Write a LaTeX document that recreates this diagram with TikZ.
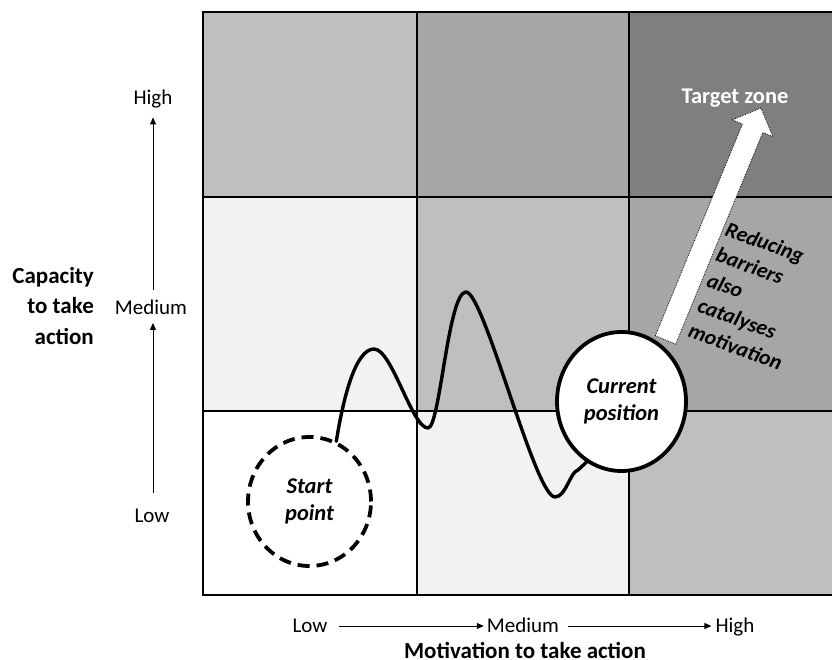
\documentclass[tikz,border=0pt]{standalone}
\usepackage{fontspec}
\setmainfont{Carlito}
\usetikzlibrary{arrows.meta,shapes.geometric}
\definecolor{cA}{HTML}{BFBFBF}
\definecolor{cB}{HTML}{A6A6A6}
\definecolor{cC}{HTML}{7F7F7F}
\definecolor{cD}{HTML}{F2F2F2}
\tikzset{
  gridline/.style={line width=2.2pt, line cap=rect},
  axlabel/.style={font=\fontsize{21}{24}\selectfont, inner sep=0pt, text height=13.5pt, text depth=0pt},
  axarrow/.style={line width=0.9pt, -{Triangle[length=7pt,width=6pt]}},
  bigtitle/.style={font=\fontsize{23}{30.5}\selectfont\bfseries, inner sep=0pt},
  bubble/.style={ellipse, draw=black, line width=3.8pt, fill=white, inner sep=0pt, align=center, font=\fontsize{22.5}{26.5}\selectfont\bfseries\itshape},
  path/.style={line width=3.4pt, line cap=round, line join=round},
}
\begin{document}
\begin{tikzpicture}[x=1pt, y=-1pt]
\useasboundingbox (0,0) rectangle (832,660);
% grid cells
\begin{scope}
\clip (0,0) rectangle (832,660);
\fill[cA] (203,12) rectangle (417,197);
\fill[cB] (417,12) rectangle (629,197);
\fill[cC] (629,12) rectangle (850,197);
\fill[cD] (203,197) rectangle (417,411);
\fill[cA] (417,197) rectangle (629,411);
\fill[cB] (629,197) rectangle (850,411);
\fill[white] (203,411) rectangle (417,595);
\fill[cD] (417,411) rectangle (629,595);
\fill[cA] (629,411) rectangle (850,595);
\draw[gridline] (850,12) -- (203,12) -- (203,595) -- (850,595);
\draw[gridline] (417,12) -- (417,595);
\draw[gridline] (629,12) -- (629,595);
\draw[gridline] (203,197) -- (850,197);
\draw[gridline] (203,411) -- (850,411);
\end{scope}

% big arrow to target zone
\draw[fill=white, draw=black, densely dotted, line width=0.8pt]
  (655.3,335.8) -- (742.4,124.1) -- (732.3,119.9) -- (761,108) -- (772.9,136.7)
  -- (762.8,132.5) -- (675.7,344.2) -- cycle;
\node[font=\fontsize{22.5}{26}\selectfont\bfseries, text=white, inner sep=0pt] (target) at (735,98) {Target zone};
\node[rotate=-20, anchor=north west, inner sep=0pt, align=left,
      font=\fontsize{21.5}{27}\selectfont\bfseries\itshape] (reduce) at (729,221)
  {Reducing\\barriers\\also\\catalyses\\motivation};

% bubbles
\node[bubble, dash pattern=on 12pt off 7pt, minimum width=123pt, minimum height=129pt] (start) at (309.5,501.5) {Start\\point};
\node[bubble, minimum width=129pt, minimum height=139pt] (cur) at (621.5,401.5) {Current\\position};

% wiggly path
\draw[path] (start.66) .. controls (343,400) and (355,349) .. (374,349)
  .. controls (392,349) and (412,428) .. (428,428)
  .. controls (440,428) and (448,292) .. (466,292)
  .. controls (484,292) and (535,497) .. (555,497)
  .. controls (566,497) and (570,472) .. (578,470)
  -- (cur.240);

% vertical axis
\node[axlabel] (vHigh) at (153,98) {High};
\node[axlabel] (vMed) at (151,308) {Medium};
\node[axlabel] (vLow) at (152,516) {Low};
\draw[axarrow, shorten <=16pt, shorten >=8pt] (vLow.north -| 153,0) -- (vMed.south -| 153,0);
\draw[axarrow, shorten <=11pt, shorten >=12.5pt] (vMed.north -| 153,0) -- (vHigh.south -| 153,0);
\node[bigtitle, align=right, anchor=east] (cap) at (94,306) {Capacity\\to take\\action};

% horizontal axis
\node[axlabel] (hLow) at (310,626) {Low};
\node[axlabel] (hMed) at (523,626) {Medium};
\node[axlabel] (hHigh) at (735,626) {High};
\draw[axarrow, shorten <=11pt, shorten >=3pt] (hLow.east) -- (hMed.west);
\draw[axarrow, shorten <=9pt, shorten >=4pt] (hMed.east) -- (hHigh.west);
\node[bigtitle] (mot) at (525,650) {Motivation to take action};
\end{tikzpicture}
\end{document}
